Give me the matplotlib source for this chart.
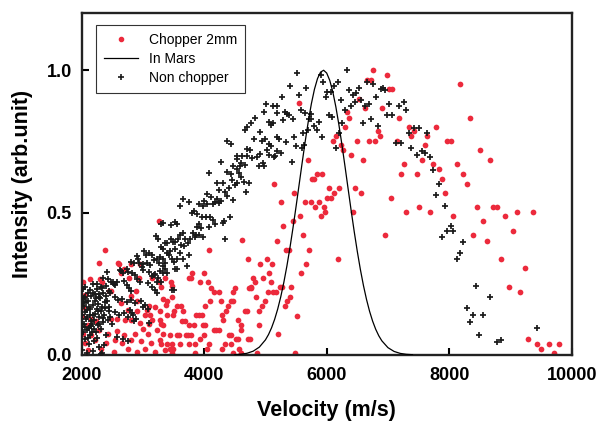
import numpy as np
import matplotlib
matplotlib.use("Agg")
import matplotlib.pyplot as plt
from matplotlib.lines import Line2D

plt.rcParams["font.family"] = ["Liberation Sans", "DejaVu Sans"]

# ── data ─────────────────────────────────────────────────────────────────────

# Chopper 2mm (red dots): (velocity m/s, intensity)
chopper = [
    (6762, 1.0), (6981, 0.984), (6654, 0.967), (6729, 0.967), (8177, 0.95),
    (7013, 0.934), (7067, 0.934), (5544, 0.884), (6523, 0.9), (6632, 0.868),
    (6904, 0.868), (6327, 0.852), (6360, 0.834), (7177, 0.834), (8341, 0.834),
    (6305, 0.801), (7340, 0.801), (7786, 0.801), (6839, 0.785), (7427, 0.785),
    (6153, 0.768), (6871, 0.768), (7382, 0.768), (7644, 0.768), (6099, 0.752),
    (6491, 0.752), (6697, 0.752), (6795, 0.752), (7144, 0.752), (7971, 0.752),
    (8026, 0.752), (6240, 0.736), (7601, 0.736), (6273, 0.719), (8505, 0.719),
    (6393, 0.702), (5696, 0.685), (6588, 0.685), (7557, 0.685), (8668, 0.685),
    (7263, 0.669), (7742, 0.669), (8124, 0.669), (7830, 0.652), (5848, 0.635),
    (5925, 0.635), (7219, 0.635), (7471, 0.635), (8232, 0.635), (5761, 0.619),
    (5794, 0.619), (7883, 0.619), (8287, 0.602), (6044, 0.586), (6207, 0.586),
    (6458, 0.586), (5473, 0.569), (6120, 0.569), (6556, 0.569), (7927, 0.569),
    (6011, 0.553), (6066, 0.553), (7056, 0.553), (5642, 0.537), (5740, 0.537),
    (5870, 0.537), (5815, 0.52), (5957, 0.52), (5978, 0.503), (6425, 0.503),
    (7296, 0.503), (7514, 0.519), (7688, 0.503), (8450, 0.519), (8722, 0.519),
    (8787, 0.519), (9104, 0.503), (9365, 0.503), (5565, 0.487), (5903, 0.487),
    (8069, 0.487), (8908, 0.487), (5446, 0.47), (8549, 0.47), (5619, 0.421),
    (6948, 0.421), (8385, 0.421), (9038, 0.437), (8614, 0.402), (5717, 0.369),
    (5663, 0.32), (6185, 0.337), (8842, 0.337), (9234, 0.304), (5586, 0.288),
    (5423, 0.239), (5401, 0.204), (8973, 0.239), (9158, 0.222), (5511, 0.138),
    (9288, 0.056), (9430, 0.039), (9506, 0.022), (9636, 0.039), (9790, 0.039),
    (9713, 0.006), (5488, 0.006),
    (5141, 0.602), (5250, 0.536), (5293, 0.454), (5184, 0.402), (5336, 0.369),
    (5379, 0.369), (5021, 0.337), (4912, 0.32), (5109, 0.32), (5064, 0.288),
    (4803, 0.271), (4825, 0.255), (4966, 0.271), (5086, 0.255), (4759, 0.239),
    (5238, 0.239), (5270, 0.239), (5042, 0.222), (5129, 0.222), (5173, 0.222),
    (4847, 0.204), (4998, 0.189), (4944, 0.171), (4890, 0.154), (5315, 0.171),
    (5358, 0.189), (5205, 0.073), (4748, 0.056), (4858, 0.006),
    (4618, 0.404), (4084, 0.369), (4716, 0.337), (3802, 0.289), (3780, 0.271),
    (3747, 0.271), (3997, 0.289), (3932, 0.255), (4062, 0.255), (4727, 0.237),
    (4770, 0.237), (4117, 0.237), (4160, 0.222), (4247, 0.222), (4508, 0.237),
    (4466, 0.221), (3475, 0.205), (3398, 0.188), (4095, 0.188), (4279, 0.188),
    (4433, 0.188), (4466, 0.188), (3551, 0.172), (3627, 0.172), (4389, 0.172),
    (4008, 0.172), (3507, 0.155), (3659, 0.155), (4357, 0.155), (4661, 0.155),
    (4694, 0.155), (3867, 0.139), (3911, 0.139), (3965, 0.139), (3388, 0.139),
    (3486, 0.139), (3681, 0.12), (3638, 0.12), (4290, 0.139), (4312, 0.123),
    (4552, 0.123), (4606, 0.104), (3279, 0.123), (3333, 0.104), (3758, 0.104),
    (3834, 0.104), (3976, 0.104), (4019, 0.104), (4890, 0.104), (4160, 0.088),
    (4193, 0.088), (4237, 0.088), (4595, 0.088), (3442, 0.071), (3551, 0.071),
    (3584, 0.071), (3703, 0.071), (3736, 0.071), (3780, 0.071), (3997, 0.071),
    (4400, 0.071), (4433, 0.071), (4520, 0.055), (4552, 0.055), (4716, 0.055),
    (3932, 0.055), (3290, 0.039), (3398, 0.039), (3475, 0.039), (3605, 0.039),
    (3747, 0.039), (3855, 0.039), (4073, 0.039), (4345, 0.039), (4443, 0.039),
    (3442, 0.022), (3496, 0.022), (4051, 0.022), (4290, 0.022), (4563, 0.022),
    (3855, 0.006), (4606, 0.006), (4476, 0.006), (3475, 0.006),
    (3268, 0.471), (2386, 0.368), (2277, 0.322), (2593, 0.322), (2691, 0.303),
    (2026, 0.256), (2135, 0.268), (2299, 0.268), (2332, 0.256), (3268, 0.258),
    (3366, 0.272), (3454, 0.258), (3475, 0.242),
    (2604, 0.319), (2800, 0.319), (2952, 0.319), (2647, 0.289), (2777, 0.272),
    (2931, 0.272), (3148, 0.272), (2451, 0.223), (2474, 0.223), (2886, 0.223),
    (3094, 0.172), (3072, 0.158), (2810, 0.207), (2908, 0.191), (3301, 0.24),
    (3333, 0.198), (3377, 0.174), (2756, 0.158), (2712, 0.123), (2800, 0.123),
    (2474, 0.127), (2582, 0.127), (3115, 0.141), (3148, 0.123),
    (2016, 0.074), (2157, 0.069), (2288, 0.088), (2429, 0.074), (2581, 0.083),
    (2691, 0.069), (2865, 0.074), (3006, 0.09), (3083, 0.074), (3235, 0.088),
    (3333, 0.074), (2049, 0.041), (2222, 0.053), (2397, 0.041), (2549, 0.053),
    (2658, 0.041), (2810, 0.053), (2963, 0.048), (3127, 0.041), (3279, 0.053),
    (2103, 0.018), (2320, 0.022), (2527, 0.011), (2756, 0.02), (2898, 0.011),
    (3029, 0.022), (3202, 0.011), (3366, 0.018), (2157, 0.127), (2103, 0.106),
    (2234, 0.118), (2005, 0.137), (3191, 0.17), (3029, 0.139), (2898, 0.155),
    (3279, 0.153), (2647, 0.181), (2952, 0.111), (3104, 0.109), (3300, 0.109),
    (2020, 0.17), (2060, 0.21),
]

# Non chopper (black crosses): (velocity m/s, intensity)
non_chopper = [
    (5521, 0.992), (6327, 1.0), (5903, 0.984), (5946, 0.96), (5401, 0.944),
    (5663, 0.937), (6120, 0.944), (6185, 0.96), (6654, 0.96), (6762, 0.953),
    (6882, 0.934), (6925, 0.939), (6958, 0.93), (5544, 0.913), (5990, 0.906),
    (6011, 0.923), (6066, 0.923), (6360, 0.93), (6425, 0.913), (6480, 0.92),
    (6523, 0.937), (6240, 0.897), (6556, 0.897), (6806, 0.906), (7013, 0.883),
    (7177, 0.874), (7263, 0.89), (7296, 0.86), (6468, 0.89), (6393, 0.874),
    (6305, 0.86), (6621, 0.874), (6991, 0.843), (7067, 0.843), (5576, 0.86),
    (5642, 0.85), (5750, 0.848), (5456, 0.829), (5717, 0.829), (5740, 0.829),
    (5870, 0.82), (6033, 0.843), (6087, 0.836), (6251, 0.813), (6588, 0.813),
    (6729, 0.829), (6839, 0.804), (5794, 0.804), (5838, 0.79), (5619, 0.78),
    (5696, 0.79), (5467, 0.766), (5925, 0.766), (6207, 0.78), (7340, 0.78),
    (7427, 0.797), (7503, 0.797), (7644, 0.78), (5500, 0.733), (5598, 0.726),
    (6153, 0.726), (7133, 0.743), (7219, 0.743), (7382, 0.726), (7557, 0.717),
    (7601, 0.71), (7471, 0.703), (7688, 0.696), (5434, 0.679), (7742, 0.649),
    (7830, 0.602), (7786, 0.562), (7927, 0.523), (6697, 0.882),
    (8026, 0.454), (8069, 0.437), (7971, 0.437), (7883, 0.414), (8223, 0.398),
    (8178, 0.359), (8124, 0.336), (8440, 0.242), (8668, 0.202), (8287, 0.164),
    (8385, 0.14), (8549, 0.14), (8341, 0.117), (8494, 0.07), (8787, 0.047),
    (8842, 0.053), (9430, 0.094),
    (5271, 0.906), (5010, 0.883), (4977, 0.853), (5119, 0.876), (5195, 0.876),
    (5184, 0.85), (5315, 0.853), (5358, 0.848), (5380, 0.843), (5293, 0.827),
    (5064, 0.82), (5097, 0.808), (5129, 0.813), (4912, 0.782), (4944, 0.752),
    (5021, 0.719), (5064, 0.74), (5097, 0.733), (5217, 0.757), (5336, 0.747),
    (5162, 0.7), (5250, 0.71), (4966, 0.673),
    (4835, 0.834), (4705, 0.801), (4672, 0.79), (4759, 0.813), (4998, 0.757),
    (4814, 0.759), (5195, 0.764), (5630, 0.736), (4368, 0.75), (4433, 0.74),
    (4694, 0.724), (4749, 0.719), (4541, 0.7), (4618, 0.7), (4694, 0.7),
    (4781, 0.693), (4858, 0.696), (4912, 0.705), (4531, 0.687), (4607, 0.675),
    (4661, 0.668), (5053, 0.703), (5140, 0.696), (5184, 0.715), (4890, 0.665),
    (4977, 0.665), (4280, 0.677), (4477, 0.663), (4541, 0.654), (4585, 0.663),
    (4368, 0.644), (4443, 0.635), (4574, 0.638), (4596, 0.626), (4073, 0.64),
    (4651, 0.609), (4727, 0.605), (4455, 0.614), (4498, 0.598), (4531, 0.605),
    (4204, 0.605), (4302, 0.605), (4400, 0.588), (4237, 0.581), (4335, 0.574),
    (4378, 0.56), (4683, 0.572), (4051, 0.567), (4117, 0.555), (4204, 0.548),
    (4280, 0.541), (4466, 0.544), (3649, 0.548), (3747, 0.539), (3911, 0.532),
    (3997, 0.541), (3605, 0.525),
    (3976, 0.523), (4051, 0.532), (4149, 0.53), (4182, 0.537), (4237, 0.534),
    (3802, 0.499), (3834, 0.506), (3878, 0.495), (3965, 0.485), (4030, 0.485),
    (4095, 0.485), (4422, 0.485), (4149, 0.474), (4182, 0.46), (4302, 0.462),
    (4324, 0.469), (3453, 0.457), (3529, 0.467), (3562, 0.46), (3920, 0.46),
    (3888, 0.448), (3953, 0.446), (4073, 0.448), (3823, 0.429), (3867, 0.422),
    (3911, 0.422), (3986, 0.415), (3845, 0.413), (3605, 0.422), (3660, 0.429),
    (3464, 0.406), (3497, 0.396), (3529, 0.396), (3573, 0.406), (3398, 0.394),
    (3681, 0.406), (3736, 0.394), (3769, 0.406), (4345, 0.406), (3355, 0.392),
    (3300, 0.38), (3333, 0.373), (3616, 0.385), (3671, 0.382), (3442, 0.366),
    (3518, 0.373), (3605, 0.359), (3388, 0.359), (3420, 0.352), (3758, 0.352),
    (3649, 0.336), (3475, 0.336), (3507, 0.326), (3551, 0.336), (3333, 0.336),
    (3355, 0.322), (3725, 0.312), (3518, 0.303), (3562, 0.303), (3279, 0.296),
    (3322, 0.289), (3388, 0.289), (3475, 0.228), (3507, 0.228),
    (3290, 0.46), (3322, 0.464), (3213, 0.418), (3246, 0.406), (3018, 0.366),
    (3094, 0.359), (3148, 0.35), (3180, 0.333), (3224, 0.338), (3279, 0.345),
    (2898, 0.347), (2919, 0.336), (2800, 0.326), (2854, 0.322), (2985, 0.31),
    (3006, 0.298), (3061, 0.324), (3115, 0.315), (2625, 0.298), (2680, 0.287),
    (2735, 0.303), (2821, 0.289), (2865, 0.28), (3180, 0.28), (3224, 0.258),
    (2908, 0.268), (2952, 0.256), (2516, 0.256), (2549, 0.245), (2582, 0.258),
    (2691, 0.261), (2735, 0.247), (2767, 0.235), (2810, 0.226), (2332, 0.235),
    (2397, 0.242), (2441, 0.226), (2135, 0.228), (2190, 0.216), (2245, 0.233),
    (2277, 0.214), (2059, 0.205), (2103, 0.191), (2026, 0.186), (3104, 0.113),
    (2854, 0.118), (2886, 0.127), (3006, 0.17), (3083, 0.16), (2789, 0.158),
    (2821, 0.146), (2332, 0.007),
    (3050, 0.35), (3268, 0.322), (3333, 0.312), (3366, 0.301), (2931, 0.324),
    (3006, 0.319), (2647, 0.296), (2756, 0.291), (3104, 0.291), (3148, 0.277),
    (3202, 0.284), (3246, 0.272), (3290, 0.258), (2430, 0.266), (2484, 0.256),
    (2527, 0.249), (3083, 0.254), (3148, 0.24), (3191, 0.228), (3235, 0.216),
    (2103, 0.219), (2157, 0.207), (2222, 0.214), (2287, 0.205), (2343, 0.219),
    (2397, 0.207), (2462, 0.216), (2538, 0.202), (2593, 0.193), (2658, 0.198),
    (2735, 0.186), (2810, 0.193), (2876, 0.181), (2963, 0.188), (3029, 0.174),
    (2010, 0.181), (2038, 0.172), (2092, 0.158), (2180, 0.174), (2245, 0.162),
    (2320, 0.153), (2386, 0.165), (2451, 0.155), (2538, 0.151), (2614, 0.139),
    (2691, 0.146), (2756, 0.134), (2843, 0.141), (2005, 0.139), (2070, 0.127),
    (2135, 0.141), (2201, 0.123), (2277, 0.132), (2353, 0.116), (2430, 0.123),
    (2495, 0.109), (2012, 0.097), (2081, 0.088), (2157, 0.102), (2234, 0.081),
    (2310, 0.092), (2397, 0.071), (2582, 0.064), (2680, 0.057), (2756, 0.05),
    (2049, 0.057), (2124, 0.039), (2201, 0.048), (2277, 0.027), (2364, 0.036),
    (2008, 0.018), (2092, 0.008), (2180, 0.013), (2320, 0.003),
    (2030, 0.2), (2060, 0.15), (2120, 0.17), (2150, 0.12), (2190, 0.14),
    (2210, 0.19), (2260, 0.18), (2290, 0.11), (2330, 0.17), (2370, 0.14),
    (2410, 0.19), (2040, 0.11), (2100, 0.06), (2170, 0.08), (2250, 0.06),
    (2060, 0.24), (2180, 0.25), (2250, 0.25), (2350, 0.27), (2420, 0.29),
    (2020, 0.08), (2050, 0.1), (2085, 0.135), (2115, 0.095), (2140, 0.16),
    (2175, 0.11), (2215, 0.145), (2240, 0.2), (2265, 0.105), (2300, 0.2),
    (2340, 0.13), (2380, 0.185), (2015, 0.23), (2075, 0.185), (2130, 0.07),
    (2205, 0.09), (2270, 0.155), (2310, 0.24), (2440, 0.17), (2470, 0.135),
]

# In Mars (black line)
mars_v = [4500, 4600, 4700, 4800, 4900, 5000, 5050, 5100, 5150, 5200, 5250,
          5300, 5350, 5400, 5450, 5500, 5550, 5600, 5650, 5700, 5750, 5800,
          5850, 5900, 5950, 6000, 6050, 6100, 6150, 6200, 6250, 6300, 6350,
          6400, 6450, 6500, 6550, 6600, 6650, 6700, 6750, 6800, 6850, 6900,
          7000, 7100, 7200, 7300, 7400]
mars_i = [0.001, 0.0026, 0.0061, 0.0134, 0.0276, 0.0531, 0.0718, 0.0956,
          0.1252, 0.1613, 0.2044, 0.2547, 0.3123, 0.3767, 0.4469, 0.5216,
          0.5987, 0.6762, 0.7512, 0.8209, 0.8825, 0.9332, 0.9708, 0.9934,
          1.0, 0.9901, 0.9644, 0.924, 0.871, 0.8075, 0.7365, 0.6608, 0.5832,
          0.5063, 0.4324, 0.3633, 0.3002, 0.2441, 0.1952, 0.1535, 0.1188,
          0.0904, 0.0677, 0.0499, 0.0258, 0.0125, 0.0056, 0.0024, 0.001]

x_ticks = [2000, 4000, 6000, 8000, 10000]
y_ticks = [0.0, 0.5, 1.0]

RED = "#ec2a3c"
BLACK = "#1a1a1a"

# ── figure ───────────────────────────────────────────────────────────────────
fig = plt.figure(figsize=(5.99, 4.21), dpi=100)
ax = fig.add_axes([0.1364, 0.1568, 0.818, 0.8116])

cv, ci = np.array(chopper).T
nv, ni = np.array(non_chopper).T

ax.scatter(cv, ci, s=17, color=RED, linewidths=0, zorder=2)
ax.scatter(nv, ni, s=20, marker="+", color=BLACK, linewidths=1.25, zorder=3)
ax.plot(mars_v, mars_i, color="black", lw=0.9, zorder=4)

ax.set_xlim(2000, 10000)
ax.set_ylim(0, 1.2)
ax.set_xticks(x_ticks)
ax.set_yticks(y_ticks)
ax.set_yticklabels([f"{t:.1f}" for t in y_ticks])
ax.tick_params(direction="in", length=5, width=1.5, labelsize=13)
ax.tick_params(axis="x", pad=9)
ax.tick_params(axis="y", pad=7)
for lbl in ax.get_xticklabels() + ax.get_yticklabels():
    lbl.set_fontweight("bold")
for sp in ax.spines.values():
    sp.set_linewidth(1.7)
    sp.set_color("#222222")

fig.text(0.5455, 0.025, "Velocity (m/s)", ha="center", va="center",
         fontsize=15.5, fontweight="bold")
fig.text(0.038, 0.563, "Intensity (arb.unit)", ha="center", va="center",
         rotation=90, fontsize=15.5, fontweight="bold")

handles = [
    Line2D([], [], ls="none", marker="o", ms=3, color=RED, mec=RED),
    Line2D([], [], color="black", lw=0.9),
    Line2D([], [], ls="none", marker="+", ms=4, mew=1.2, color=BLACK),
]
leg = ax.legend(handles, ["Chopper 2mm", "In Mars", "Non chopper"],
                loc="upper left", bbox_to_anchor=(0.029, 0.966),
                borderaxespad=0, fontsize=10, handlelength=2.4,
                fancybox=False, framealpha=1, edgecolor="#333333",
                labelspacing=0.35, borderpad=0.6, handletextpad=0.8)
leg.get_frame().set_linewidth(0.8)

fig.savefig("out.png", dpi=100)
